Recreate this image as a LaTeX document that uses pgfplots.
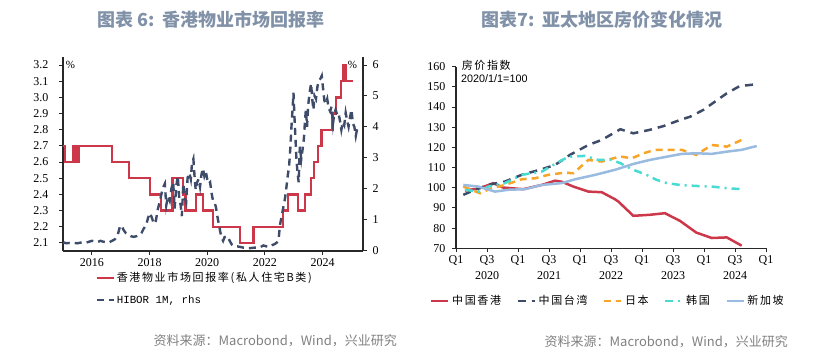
\documentclass[border=0pt]{standalone}
\usepackage{fontspec}
\setmainfont{Liberation Serif}
\newfontfamily\cjk{Noto Sans CJK SC}
\newfontfamily\cjkleg{Noto Sans CJK SC}[LetterSpace=15]
\newfontfamily\monof{Liberation Mono}
\newfontfamily\sansf{Liberation Sans}
\usepackage{pgfplots}
\pgfplotsset{compat=1.18}
\definecolor{hkred}{RGB}{204,56,74}
\definecolor{navy}{RGB}{62,76,106}
\definecolor{jpor}{RGB}{247,164,40}
\definecolor{krcy}{RGB}{72,219,210}
\definecolor{sgbl}{RGB}{153,187,224}
\definecolor{titlec}{RGB}{128,145,168}
\definecolor{srcg}{RGB}{128,128,128}
\definecolor{axc}{RGB}{40,40,40}
\pgfplotsset{
  common/.style={
    scale only axis,
    anchor=south west,
    tick align=outside,
    major tick length=4pt,
    tick style={axc, line width=0.9pt},
    axis line style={axc, line width=1.1pt},
    ticklabel style={font=\fontsize{12}{14}\selectfont},
    /pgf/number format/assume math mode=true,
    clip=false,
  }
}
\begin{document}
\begin{tikzpicture}[x=1pt,y=1pt]
\path[use as bounding box] (0,0) rectangle (814,354);
% titles
\node[font=\cjk\bfseries\fontsize{18}{21}\selectfont, text=titlec] at (211,334) {图表 6:\ \ 香港物业市场回报率};
\node[font=\cjk\bfseries\fontsize{18}{21}\selectfont, text=titlec] at (602,334) {图表7:\ \ 亚太地区房价变化情况};
% sources
\node[font=\cjk\fontsize{13}{15}\selectfont, text=srcg, anchor=east, inner sep=0pt] at (397,13) {资料来源：Macrobond，Wind，兴业研究};
\node[font=\cjk\fontsize{13}{15}\selectfont, text=srcg, anchor=east, inner sep=0pt] at (788,12.5) {资料来源：Macrobond，Wind，兴业研究};

% ---------------- left chart: HK return ----------------
\begin{axis}[common,
  at={(63pt,103pt)}, width=300pt, height=194pt,
  xmin=2015, xmax=2025.4, ymin=2.05, ymax=3.25,
  axis x line*=bottom, axis y line*=left,
  xtick={2016,2018,2020,2022,2024},
  xticklabel style={/pgf/number format/1000 sep=},
  ytick={2.1,2.2,2.3,2.4,2.5,2.6,2.7,2.8,2.9,3.0,3.1,3.2},
  yticklabel style={xshift=-7pt, /pgf/number format/fixed, /pgf/number format/precision=1, /pgf/number format/fixed zerofill},
]
\addplot[const plot, hkred, line width=2.3pt] coordinates {
(2015.00,2.7) (2015.08,2.6) (2015.36,2.7) (2015.45,2.6) (2015.54,2.7)
(2016.70,2.6) (2017.30,2.5) (2018.02,2.4) (2018.40,2.3) (2018.80,2.5)
(2019.17,2.4) (2019.25,2.3) (2019.61,2.4) (2019.86,2.3) (2020.20,2.2)
(2021.13,2.1) (2021.60,2.2) (2022.62,2.3) (2022.81,2.4) (2023.14,2.3)
(2023.39,2.4) (2023.60,2.5) (2023.70,2.6) (2023.84,2.7) (2023.96,2.8)
(2024.34,2.9) (2024.46,3.0) (2024.64,3.1) (2024.72,3.2) (2024.79,3.1)
(2025.04,3.1)
};
\node[font=\fontsize{11}{12}\selectfont, anchor=center] at (rel axis cs:0.025,0.96) {\%};
\end{axis}
\begin{axis}[common,
  at={(63pt,103pt)}, width=300pt, height=194pt,
  xmin=2015, xmax=2025.4, ymin=-0.03, ymax=6.26,
  axis x line=none, axis y line*=right,
  ytick={0,1,2,3,4,5,6},
  yticklabel style={xshift=2pt},
  legend style={draw=none, fill=none, at={(0.107,-0.10)}, anchor=north west,
    inner sep=0pt, row sep=8pt, nodes={inner sep=2pt, anchor=west}},
  legend cell align=left,
  legend image code/.code={\draw[#1] (0pt,0pt) -- (17pt,0pt);},
]
\addlegendimage{hkred, line width=2.5pt}
\addlegendentry{\cjkleg\fontsize{11}{12}\selectfont 香港物业市场回报率(私人住宅B类)}
\addplot[navy, line width=2.4pt, dash pattern=on 7pt off 5pt] coordinates {
(2015.00,0.22) (2015.05,0.24) (2015.12,0.22) (2015.20,0.23) (2015.30,0.22)
(2015.40,0.23) (2015.50,0.22) (2015.60,0.24) (2015.70,0.25) (2015.80,0.24)
(2015.90,0.27) (2016.00,0.30) (2016.10,0.28) (2016.20,0.26) (2016.30,0.30)
(2016.40,0.27) (2016.50,0.26) (2016.60,0.25) (2016.70,0.30) (2016.80,0.35)
(2016.90,0.50) (2016.97,0.75) (2017.03,0.80) (2017.10,0.65) (2017.18,0.55)
(2017.27,0.50) (2017.35,0.45) (2017.45,0.43) (2017.55,0.45) (2017.65,0.50)
(2017.72,0.55) (2017.80,0.70) (2017.88,0.80) (2017.95,1.05) (2018.02,1.20)
(2018.08,1.05) (2018.15,0.85) (2018.22,0.95) (2018.28,1.30) (2018.35,1.55)
(2018.42,1.85) (2018.48,2.05) (2018.53,2.15) (2018.58,1.45) (2018.64,1.75)
(2018.70,1.60) (2018.76,2.00) (2018.82,2.20) (2018.87,1.35) (2018.93,2.10)
(2018.98,2.40) (2019.03,1.65) (2019.08,1.45) (2019.12,1.10) (2019.17,2.15)
(2019.22,1.70) (2019.27,1.55) (2019.32,2.35) (2019.38,2.50) (2019.43,2.30)
(2019.47,2.80) (2019.52,2.95) (2019.56,2.40) (2019.60,1.95) (2019.65,2.20)
(2019.70,2.30) (2019.75,2.05) (2019.80,2.45) (2019.85,2.65) (2019.90,2.40)
(2019.95,2.55) (2020.00,2.30) (2020.05,2.15) (2020.10,2.20) (2020.15,1.85)
(2020.20,1.60) (2020.25,1.55) (2020.30,1.40) (2020.35,1.10) (2020.40,0.85)
(2020.45,0.60) (2020.50,0.40) (2020.55,0.30) (2020.60,0.42) (2020.70,0.45)
(2020.78,0.30) (2020.85,0.18) (2020.95,0.12) (2021.05,0.12) (2021.15,0.10)
(2021.25,0.08) (2021.35,0.07) (2021.45,0.06) (2021.55,0.07) (2021.65,0.08)
(2021.75,0.08) (2021.85,0.10) (2021.95,0.15) (2022.05,0.12) (2022.15,0.10)
(2022.25,0.16) (2022.35,0.20) (2022.42,0.25) (2022.48,0.40) (2022.52,0.80)
(2022.58,1.10) (2022.64,1.40) (2022.70,1.70) (2022.74,2.00) (2022.79,2.40)
(2022.84,2.75) (2022.88,3.30) (2022.92,4.00) (2022.96,4.60) (2022.99,5.10)
(2023.02,4.40) (2023.05,3.80) (2023.09,3.00) (2023.13,2.50) (2023.17,2.20)
(2023.21,3.35) (2023.26,2.95) (2023.31,3.30) (2023.35,3.60) (2023.39,4.20)
(2023.42,4.55) (2023.46,4.00) (2023.50,4.70) (2023.55,5.10) (2023.60,5.40)
(2023.64,4.90) (2023.68,4.55) (2023.72,5.00) (2023.77,4.90) (2023.82,5.30)
(2023.87,5.50) (2023.92,5.55) (2023.97,5.65) (2024.02,5.20) (2024.06,4.85)
(2024.11,4.75) (2024.16,4.90) (2024.21,4.60) (2024.26,4.50) (2024.31,4.65)
(2024.36,4.10) (2024.40,4.40) (2024.45,4.55) (2024.50,4.40) (2024.55,4.45)
(2024.60,4.20) (2024.65,3.90) (2024.70,4.15) (2024.75,4.05) (2024.80,4.45)
(2024.85,4.20) (2024.90,4.00) (2024.95,4.30) (2025.00,4.55) (2025.05,4.10)
(2025.10,4.00) (2025.15,3.70) (2025.20,3.95)
};
\addlegendentry{\monof\fontsize{10.8}{12}\selectfont HIBOR 1M, rhs}
\node[font=\fontsize{11}{12}\selectfont, anchor=center] at (rel axis cs:0.965,0.96) {\%};
\end{axis}

% ---------------- right chart: APAC house prices ----------------
\begin{axis}[common,
  at={(456pt,105.7pt)}, width=310pt, height=181.6pt,
  xmin=0, xmax=20, ymin=70, ymax=160,
  axis x line*=bottom, axis y line*=left,
  ytick={70,80,90,100,110,120,130,140,150,160},
  yticklabel style={xshift=-3pt},
  xtick={0,2,4,6,8,10,12,14,16,18,20},
  xticklabels={{Q1},{Q3\\2020},{Q1},{Q3\\2021},{Q1},{Q3\\2022},{Q1},{Q3\\2023},{Q1},{Q3\\2024},{Q1}},
  xticklabel style={align=center, font=\fontsize{12}{15.5}\selectfont},
  legend style={draw=none, fill=none, at={(-0.084,-0.245)}, anchor=north west,
    inner sep=0pt, nodes={inner sep=2.5pt, anchor=west},
    /tikz/every even column/.append style={column sep=13pt}},
  legend columns=5,
  legend cell align=left,
  legend image code/.code={\draw[#1] (0pt,0pt) -- (17pt,0pt);},
]
\addplot[hkred, line width=2.5pt] coordinates {
(0.58,98.6) (1.55,99.8) (2.40,102.3) (3.05,100.1) (4.34,99.3) (5.53,101.4)
(6.39,103.5) (6.82,103.0) (7.57,100.6) (8.54,98.1) (9.40,97.8) (10.26,94.3)
(10.47,93.2) (11.44,86.1) (12.50,86.6) (13.48,87.4) (14.45,83.6) (15.50,77.8)
(16.50,75.1) (17.47,75.4) (18.43,71.3)
};
\addlegendentry{\cjkleg\fontsize{11}{12}\selectfont 中国香港}
\addplot[navy, line width=2.5pt, dash pattern=on 8pt off 6pt] coordinates {
(0.47,96.5) (1.23,99.0) (2.08,101.4) (3.16,103.1) (4.24,106.4) (5.53,109.2)
(6.39,111.3) (7.35,116.3) (8.54,121.2) (9.40,123.7) (10.60,129.0) (11.44,127.0)
(12.50,128.7) (13.40,130.6) (14.45,133.6) (15.10,135.2) (15.96,138.6)
(16.80,143.2) (17.47,146.8) (18.30,150.4) (19.40,151.3)
};
\addlegendentry{\cjkleg\fontsize{11}{12}\selectfont 中国台湾}
\addplot[jpor, line width=2.5pt, dash pattern=on 7pt off 5pt] coordinates {
(0.47,100.6) (1.55,97.3) (2.30,99.8) (3.16,101.4) (4.24,104.2) (5.10,104.7)
(5.95,106.4) (7.03,107.5) (7.57,107.2) (8.54,113.8) (9.40,113.0) (10.10,114.5)
(10.60,115.5) (11.34,114.6) (12.10,117.1) (12.84,118.8) (13.60,118.8)
(14.56,118.8) (15.50,116.3) (16.50,121.2) (17.47,120.4) (18.43,123.7)
};
\addlegendentry{\cjkleg\fontsize{11}{12}\selectfont 日本}
\addplot[krcy, line width=2.5pt, dash pattern=on 8pt off 5pt on 2pt off 5pt] coordinates {
(0.58,99.0) (1.44,98.1) (2.08,100.6) (3.16,102.3) (4.24,106.4) (5.53,108.0)
(6.39,111.8) (7.25,115.4) (8.32,115.8) (9.18,113.8) (10.05,113.8) (10.60,112.2)
(11.44,108.9) (12.30,106.4) (12.95,103.9) (13.60,102.3) (14.45,101.4)
(15.50,100.9) (16.50,100.6) (17.47,99.8) (18.43,99.3)
};
\addlegendentry{\cjkleg\fontsize{11}{12}\selectfont 韩国}
\addplot[sgbl, line width=2.5pt] coordinates {
(0.47,101.4) (1.44,100.6) (2.52,98.1) (3.37,99.0) (4.45,99.3) (5.53,101.4)
(6.82,102.3) (7.68,104.2) (8.97,106.4) (10.26,108.9) (11.44,111.8) (12.50,113.8)
(13.60,115.4) (14.56,116.8) (15.50,117.1) (16.50,116.8) (17.47,117.9)
(18.43,118.8) (19.40,120.7)
};
\addlegendentry{\cjkleg\fontsize{11}{12}\selectfont 新加坡}
\node[font=\cjkleg\fontsize{11}{12}\selectfont, anchor=west, inner sep=0pt] at (rel axis cs:0.018,1.01) {房价指数};
\node[font=\sansf\fontsize{10.8}{12}\selectfont, anchor=west, inner sep=0pt] at (rel axis cs:0.016,0.935) {2020/1/1=100};
\end{axis}
\end{tikzpicture}
\end{document}
